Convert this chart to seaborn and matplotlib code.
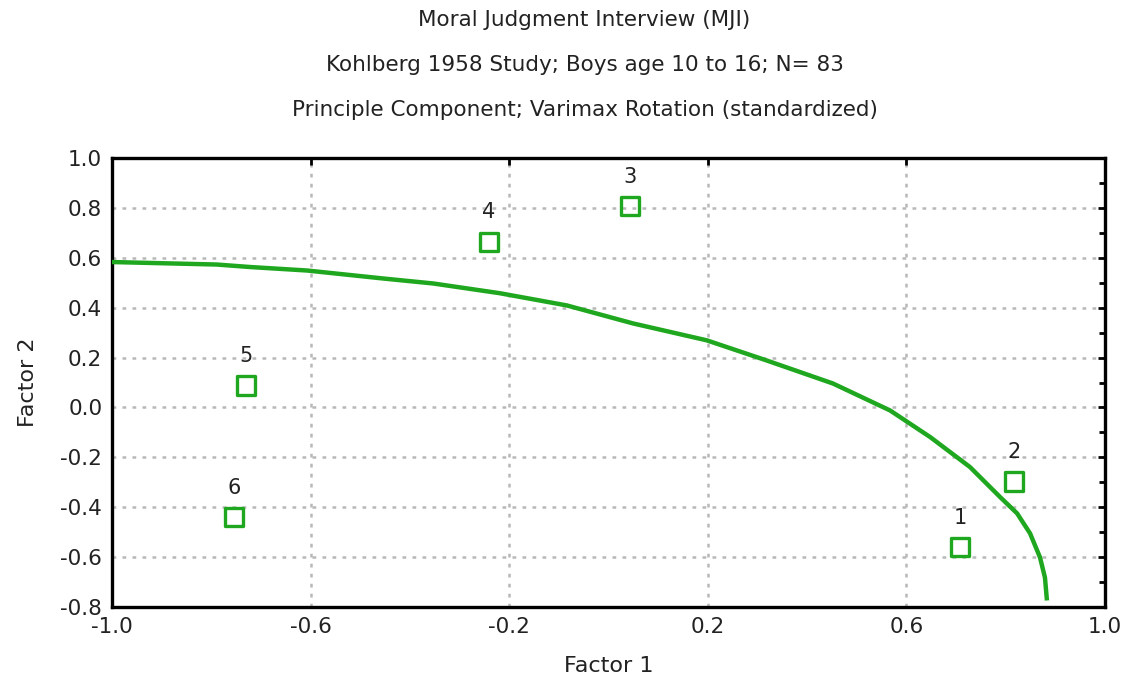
import numpy as np
import pandas as pd
import matplotlib
matplotlib.use("Agg")
import matplotlib.pyplot as plt
from matplotlib.ticker import MultipleLocator
import seaborn as sns

# factor loadings of the six MJI variables
var_labels = ['1', '2', '3', '4', '5', '6']
factor1 = [0.708, 0.817, 0.043, -0.241, -0.730, -0.754]
factor2 = [-0.561, -0.297, 0.806, 0.662, 0.088, -0.441]

# green curve, points
curve_x = [-1.0, -0.789, -0.722, -0.607, -0.454, -0.353, -0.219, -0.084,
           0.049, 0.198, 0.319, 0.452, 0.567, 0.648, 0.728, 0.789,
           0.823, 0.849, 0.869, 0.879, 0.883]
curve_y = [0.583, 0.573, 0.563, 0.549, 0.517, 0.497, 0.458, 0.409,
           0.337, 0.269, 0.188, 0.096, -0.012, -0.119, -0.239, -0.360,
           -0.425, -0.505, -0.601, -0.682, -0.774]

x_ticks = [-1.0, -0.6, -0.2, 0.2, 0.6, 1.0]
y_ticks = [-0.8, -0.6, -0.4, -0.2, 0.0, 0.2, 0.4, 0.6, 0.8, 1.0]

title_lines = [
    'Moral Judgment Interview (MJI)',
    'Kohlberg 1958 Study; Boys age 10 to 16; N= 83',
    'Principle Component; Varimax Rotation (standardized)',
]

green = '#1fa81f'
txt = '#222222'

sns.set_style('white')
plt.rcParams['font.family'] = ['DejaVu Sans']

df_pts = pd.DataFrame({'f1': factor1, 'f2': factor2, 'lab': var_labels})
df_curve = pd.DataFrame({'x': curve_x, 'y': curve_y})

fig = plt.figure(figsize=(11.35, 6.98), dpi=100)
ax = fig.add_axes([0.0987, 0.1304, 0.8749, 0.6432])

sns.lineplot(data=df_curve, x='x', y='y', sort=False, color=green,
             linewidth=3.2, ax=ax, zorder=3, solid_joinstyle='round',
             solid_capstyle='butt')
sns.scatterplot(data=df_pts, x='f1', y='f2', marker='s', s=170,
                facecolor='none', edgecolor=green, linewidth=2.4,
                ax=ax, zorder=4)

for _, r in df_pts.iterrows():
    ax.annotate(r['lab'], (r['f1'], r['f2']), xytext=(0, 21.5),
                textcoords='offset points', ha='center', va='center',
                fontsize=15, color=txt)

ax.set_xlim(-1.0, 1.0)
ax.set_ylim(-0.8, 1.0)
ax.set_xticks(x_ticks)
ax.set_yticks(y_ticks)
ax.yaxis.set_minor_locator(MultipleLocator(0.1))
ax.set_xticklabels([f'{v:.1f}' for v in x_ticks])
ax.set_yticklabels([f'{v:.1f}' for v in y_ticks])

ax.grid(True, which='major', linestyle=(0, (1.5, 2.5)), color='#b8b8b8',
        linewidth=1.8)
ax.tick_params(which='both', direction='in', top=True, right=True,
               labelsize=15.5, labelcolor=txt, color='black')
ax.tick_params(which='major', length=5, width=2, pad=7)
ax.tick_params(which='minor', length=4, width=2)
for sp in ax.spines.values():
    sp.set_linewidth(2.4)
    sp.set_color('black')

ax.set_xlabel('Factor 1', fontsize=16, color=txt, labelpad=14)
ax.set_ylabel('Factor 2', fontsize=16, color=txt, labelpad=16)

for i, line in enumerate(title_lines):
    fig.text(0.515, 0.971 - i * 0.0645, line, ha='center', va='center',
             fontsize=15.5, color=txt)

fig.savefig('out.png', dpi=100)
